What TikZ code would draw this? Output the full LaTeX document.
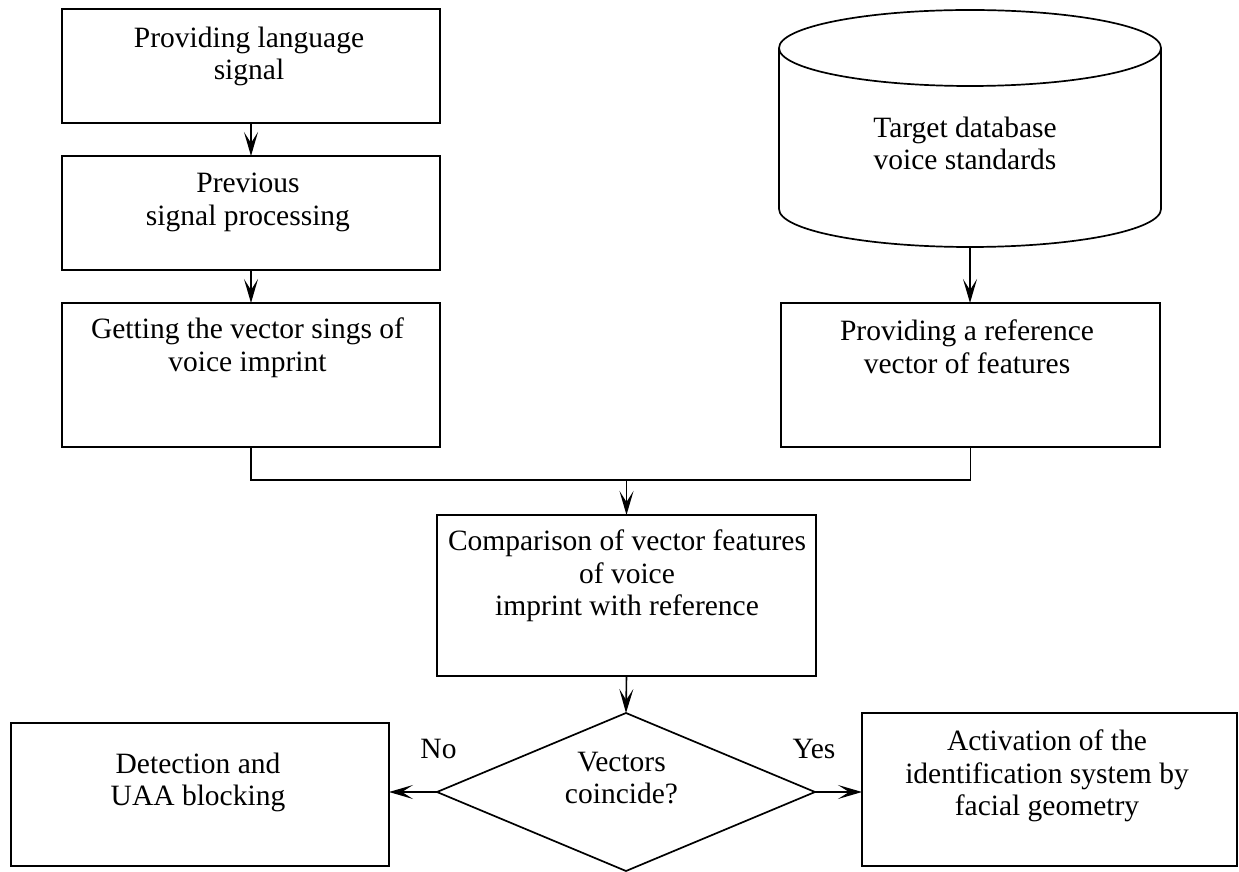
\documentclass[tikz,border=0pt]{standalone}
\usepackage{fontspec}
\setmainfont{Liberation Serif}
\usetikzlibrary{arrows.meta,shapes.geometric}
\begin{document}
\begin{tikzpicture}[x=1pt,y=1pt,
  every node/.style={inner sep=0pt, outer sep=0pt},
  boxnode/.style={draw, line width=1.7pt, rectangle},
  txt/.style={anchor=north, align=center, font=\fontsize{29.5}{32.5}\selectfont},
  lbl/.style={anchor=base, font=\fontsize{29.5}{32.5}\selectfont},
  arr/.style={line width=1.6pt, -{Stealth[length=24pt,width=14pt,inset=11pt]}},
  conn/.style={line width=1.6pt}]
\useasboundingbox (0,0) rectangle (1239,871);
% left column
\node[boxnode, minimum width=378pt, minimum height=114pt] (b1) at (251,805) {};
\node[boxnode, minimum width=378pt, minimum height=114pt] (b2) at (251,658) {};
\node[boxnode, minimum width=378pt, minimum height=144pt] (b3) at (251,496) {};
\node[txt] (t1) at (249,844) {Providing language\\signal};
\node[txt] (t2) at (248,698) {Previous\\signal processing};
\node[txt] (t3) at (247.5,553) {Getting the vector sings of\\voice imprint};
% database cylinder
\node[minimum width=382pt, minimum height=237pt] (db) at (970,742.5) {};
\draw[line width=1.7pt] (970,823) ellipse [x radius=191, y radius=38];
\draw[line width=1.7pt] (779,823) -- (779,662) arc [start angle=180, end angle=360, x radius=191, y radius=38] -- (1161,823);
\node[txt] (tdb) at (965,754) {Target database\\voice standards};
\node[boxnode, minimum width=379pt, minimum height=144pt] (b4) at (970.5,496) {};
\node[txt] (t4) at (967,551) {Providing a reference\\vector of features};
% comparison
\node[boxnode, minimum width=379pt, minimum height=161pt] (b5) at (626.5,275.5) {};
\node[txt] (t5) at (627,341) {Comparison of vector features\\of voice\\imprint with reference};
% decision
\node[draw, line width=1.7pt, diamond, aspect=2.39, minimum width=378pt, minimum height=158pt] (dia) at (626,79) {};
\node[txt] (td) at (621.5,119) {Vectors\\coincide?};
\node[boxnode, minimum width=378pt, minimum height=143pt] (bl) at (200,76.5) {};
\node[txt] (tl) at (198,118) {Detection and\\UAA blocking};
\node[boxnode, minimum width=375pt, minimum height=153pt] (br) at (1049.5,81.5) {};
\node[txt] (tr) at (1047,141) {Activation of the\\identification system by\\facial geometry};
\node[lbl] (no) at (438.5,113) {No};
\node[lbl] (yes) at (814,113) {Yes};
% connectors
\coordinate (mj) at (626.5,391);
\draw[arr] (b1.south) -- (b2.north);
\draw[arr] (b2.south) -- (b3.north);
\draw[arr] (db.south) -- (db.south |- b4.north);
\draw[conn] (b3.south) |- (mj) -| (b4.south);
\draw[arr] (mj) -- (b5.north);
\draw[arr] (b5.south) -- (dia.north);
\draw[arr] (dia.west) -- (bl.east |- dia.west);
\draw[arr] (dia.east) -- (br.west |- dia.east);
\end{tikzpicture}
\end{document}
